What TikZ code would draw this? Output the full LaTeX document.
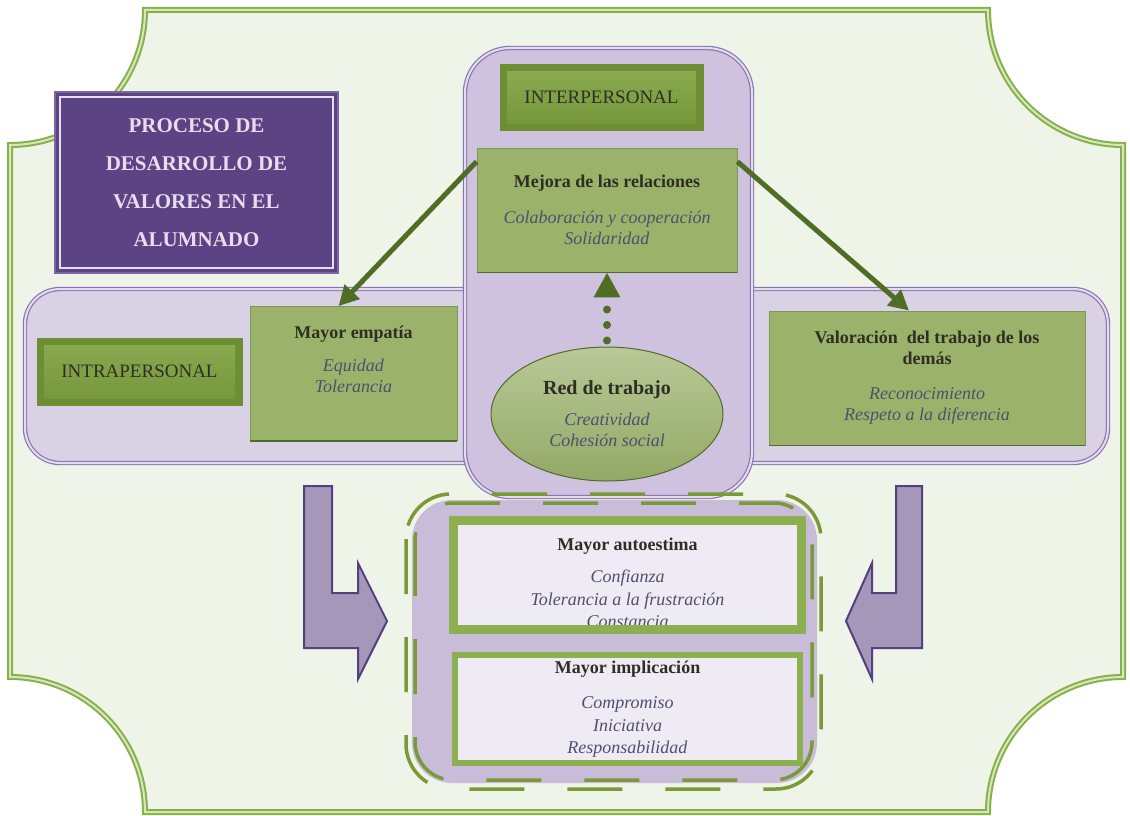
\documentclass[tikz,border=0pt]{standalone}
\usepackage{fontspec}
\setmainfont{Liberation Serif}
\usetikzlibrary{arrows.meta,shapes.geometric,calc}
\definecolor{framegreen}{HTML}{86B04A}
\definecolor{framelight}{HTML}{D6E7BE}
\definecolor{bggreen}{HTML}{EFF4E8}
\definecolor{titlepurple}{HTML}{5C4484}
\definecolor{titleedge}{HTML}{7B66A3}
\definecolor{titletext}{HTML}{EADBEE}
\definecolor{contedge}{HTML}{8C74B4}
\definecolor{contlight}{HTML}{E4DDED}
\definecolor{vfill}{HTML}{CEC2DE}
\definecolor{hfill}{HTML}{D9D2E4}
\definecolor{boxgreen}{HTML}{9BB26B}
\definecolor{boxedge}{HTML}{7E9A4C}
\definecolor{shadowgreen}{HTML}{4F6B2A}
\definecolor{darktext}{HTML}{2E2E24}
\definecolor{italtext}{HTML}{4F4F6E}
\definecolor{bevelout}{HTML}{6E8E33}
\definecolor{beveltop}{HTML}{8CAB52}
\definecolor{bevelbot}{HTML}{74953A}
\definecolor{arrowgreen}{HTML}{4F6D24}
\definecolor{lpurple}{HTML}{A597BA}
\definecolor{lpurpleedge}{HTML}{553F7E}
\definecolor{bottomfill}{HTML}{C8BCD8}
\definecolor{dashgreen}{HTML}{7A9A3A}
\definecolor{whitebox}{HTML}{EEEBF4}
\definecolor{wboxedge}{HTML}{8CAF50}
\begin{document}
\begin{tikzpicture}[x=1pt,y=-1pt,
  container/.style={draw=contedge, double=contlight, line width=1.2pt, double distance=2pt},
  gbox/.style={draw=boxedge, fill=boxgreen, line width=0.8pt, inner sep=4pt, align=center,
    text=darktext, font=\fontsize{18}{21}\selectfont},
  bevel/.style={draw=bevelout, fill=bevelout, line width=1pt, text=darktext,
    font=\fontsize{19}{22}\selectfont,
    path picture={\shade[top color=beveltop, bottom color=bevelbot]
      ($(path picture bounding box.south west)+(7,-7)$) rectangle
      ($(path picture bounding box.north east)+(-7,7)$);}},
  wbox/.style={draw=wboxedge, fill=whitebox, line width=6pt},
  garrow/.style={draw=arrowgreen, line width=5pt, -{Triangle[length=20pt,width=20pt]}},
  larrow/.style={fill=lpurple, draw=lpurpleedge, line width=2pt, line join=miter},
  dashframe/.style={draw=dashgreen, line width=3.5pt, dash pattern=on 55pt off 43pt}
]
\useasboundingbox (0,0) rectangle (1130,816);
% outer frame with concave corners
\def\rr{135}
\path[fill=bggreen] (145,10) -- (988,10) arc[start angle=180,end angle=90,radius=\rr]
  -- (1123,677) arc[start angle=270,end angle=180,radius=\rr]
  -- (145,812) arc[start angle=360,end angle=270,radius=\rr]
  -- (10,145) arc[start angle=90,end angle=0,radius=\rr] -- cycle;
\draw[framegreen, line width=6pt, line join=miter] (145,10) -- (988,10) arc[start angle=180,end angle=90,radius=\rr]
  -- (1123,677) arc[start angle=270,end angle=180,radius=\rr]
  -- (145,812) arc[start angle=360,end angle=270,radius=\rr]
  -- (10,145) arc[start angle=90,end angle=0,radius=\rr] -- cycle;
\draw[framelight, line width=2pt, line join=miter] (145,10) -- (988,10) arc[start angle=180,end angle=90,radius=\rr]
  -- (1123,677) arc[start angle=270,end angle=180,radius=\rr]
  -- (145,812) arc[start angle=360,end angle=270,radius=\rr]
  -- (10,145) arc[start angle=90,end angle=0,radius=\rr] -- cycle;

% containers
\draw[container, fill=hfill, rounded corners=35pt] (25,289) rectangle (1108,463);
\draw[container, fill=vfill, rounded corners=45pt] (465,48) rectangle (752,497);

% title box
\node[draw=titleedge, fill=titlepurple, line width=2pt, minimum width=283pt, minimum height=181pt,
  text=titletext, align=center, font=\bfseries\fontsize{21}{38}\selectfont] (title) at (196.5,182.5)
  {PROCESO DE\\DESARROLLO DE\\VALORES EN EL\\ALUMNADO};
\draw[white!80!titleedge, line width=1.5pt] ($(title.south west)+(6,-6)$) rectangle ($(title.north east)+(-6,6)$);

% bevel labels
\node[bevel, minimum width=203pt, minimum height=65pt] (inter) at (601.5,97.5) {INTERPERSONAL};
\node[bevel, minimum width=205pt, minimum height=67pt] (intra) at (139.5,371.5) {INTRAPERSONAL};

% green boxes
\node[gbox, minimum width=260pt, minimum height=124pt] (mejora) at (607,210)
  {\textbf{Mejora de las relaciones}\\[15pt]\color{italtext}\textit{Colaboración y cooperación}\\\color{italtext}\textit{Solidaridad}};
\draw[shadowgreen, line width=1.5pt] (mejora.south west) -- (mejora.south east);
\node[gbox, minimum width=207pt, minimum height=134pt] (empatia) at (353.5,373.5)
  {\textbf{Mayor empatía}\\[12pt]\color{italtext}\textit{Equidad}\\\color{italtext}\textit{Tolerancia}\\[8pt]};
\draw[shadowgreen, line width=1.5pt] (empatia.south west) -- (empatia.south east);
\node[gbox, minimum width=316pt, minimum height=134pt] (valor) at (927,378)
  {\textbf{Valoración \ del trabajo de los}\\\textbf{demás}\\[14pt]\color{italtext}\textit{Reconocimiento}\\\color{italtext}\textit{Respeto a la diferencia}};
\draw[shadowgreen, line width=1.5pt] (valor.south west) -- (valor.south east);

% ellipse
\node[ellipse, draw=shadowgreen, line width=1pt, inner sep=0pt, minimum width=232pt, minimum height=134pt,
  top color=boxgreen!70!white, bottom color=boxgreen!95!black, align=center, text=darktext,
  font=\fontsize{18}{21}\selectfont] (red) at (607,414)
  {\fontsize{20}{22}\selectfont\textbf{Red de trabajo}\\[10pt]\color{italtext}\textit{Creatividad}\\\color{italtext}\textit{Cohesión social}};

% dotted arrow
\draw[arrowgreen, line width=8pt, line cap=round, dash pattern=on 0pt off 15.5pt,
  shorten <=6pt, -{Triangle[length=25pt,width=25pt,line cap=butt]}] (red.north) -- (mejora.south);

% green arrows
\draw[garrow] ($(mejora.north west)+(0,14)$) -- ($(empatia.north)+(-15,0)$);
\draw[garrow] ($(mejora.north east)+(0,14)$) -- ($(valor.north)+(-18,0)$);

% purple L arrows
\draw[larrow] (304,486) -- (332,486) -- (332,593) -- (358,593) -- (358,563) -- (387,621)
  -- (358,679) -- (358,648) -- (304,648) -- cycle;
\draw[larrow] (922,486) -- (896,486) -- (896,593) -- (872,593) -- (872,563) -- (846,621)
  -- (872,679) -- (872,648) -- (922,648) -- cycle;

% bottom container
\fill[bottomfill, rounded corners=40pt] (412,500) rectangle (817,783);
\draw[dashframe, rounded corners=45pt] (406,494) rectangle (821,789);
\draw[dashframe, rounded corners=38pt] (415,503) rectangle (812,780);

% white boxes
\node[wbox, minimum width=345pt, minimum height=106pt] (auto) at (627.5,575) {};
\begin{scope}
  \clip ($(auto.south west)+(3,-7)$) rectangle ($(auto.north east)+(-3,3)$);
  \node[align=center, text=darktext, font=\fontsize{18}{22.5}\selectfont] (autotext) at (627.5,583)
    {\textbf{Mayor autoestima}\\[10pt]\color{italtext}\textit{Confianza}\\\color{italtext}\textit{Tolerancia a la frustración}\\\color{italtext}\textit{Constancia}};
\end{scope}
\draw[wboxedge, line width=6pt] (auto.south west) rectangle (auto.north east);
\node[wbox, minimum width=345pt, minimum height=108pt, align=center, text=darktext,
  font=\fontsize{18}{22.5}\selectfont] (impl) at (627.5,709)
  {\textbf{Mayor implicación}\\[13pt]\color{italtext}\textit{Compromiso}\\\color{italtext}\textit{Iniciativa}\\\color{italtext}\textit{Responsabilidad}};
\end{tikzpicture}
\end{document}
